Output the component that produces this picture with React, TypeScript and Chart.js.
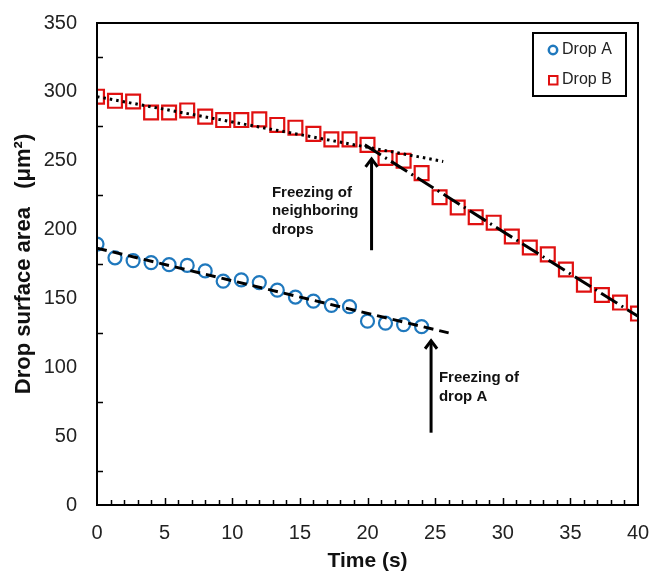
import React, { useEffect, useRef } from 'react';
import { Chart, registerables } from 'chart.js';
Chart.register(...registerables);

const timeA = [0, 1.33, 2.67, 4, 5.33, 6.67, 8, 9.33, 10.67, 12, 13.33, 14.67, 16, 17.33, 18.67, 20, 21.33, 22.67, 24];
const areaA = [189.5, 179.5, 177.5, 176, 174.5, 174, 170, 162.5, 163.5, 161.5, 156, 151, 148, 145, 144, 133.5, 132, 131, 129.5];

const timeB = [0, 1.33, 2.67, 4, 5.33, 6.67, 8, 9.33, 10.67, 12, 13.33, 14.67, 16, 17.33, 18.67, 20, 21.33, 22.67, 24, 25.33, 26.67, 28, 29.33, 30.67, 32, 33.33, 34.67, 36, 37.33, 38.67, 40];
const areaB = [296.5, 293.5, 293, 285, 285, 286.5, 282, 279.5, 279.5, 280, 276, 274, 269.5, 265.5, 265.5, 261.5, 252, 250, 241, 223.5, 216, 209, 205, 195, 187, 182, 171, 160, 152.5, 147, 139];

const trendATime = [0, 26];
const trendAArea = [186.5, 125];
const trendB1Time = [0, 25.6];
const trendB1Area = [296.5, 249.5];
const trendB2Time = [19.8, 40];
const trendB2Area = [261.5, 137];

const xTickValues = [0, 5, 10, 15, 20, 25, 30, 35, 40];
const yTickValues = [0, 50, 100, 150, 200, 250, 300, 350];
const xMinorTicks = Array.from({ length: 39 }, (_, i) => i + 1);
const yMinorTicks = [25, 75, 125, 175, 225, 275, 325];

const arrows = [
  { x: 20.3, yFrom: 185, yTo: 252 },
  { x: 24.7, yFrom: 52.5, yTo: 120 },
];
const notes = [
  { x: 12.93, y: 227, lines: ['Freezing of', 'neighboring', 'drops'] },
  { x: 25.28, y: 92, lines: ['Freezing of', 'drop A'] },
];

const seriesNames = ['Drop A', 'Drop B'];
const BLUE = '#1f78bd';
const RED = '#e01010';
const FONT = '"Liberation Sans", Arial, sans-serif';

const pts = (xs: number[], ys: number[]) => xs.map((x, i) => ({ x, y: ys[i] }));

const overlay = {
  id: 'overlay',
  afterDraw(chart: any) {
    const ctx = chart.ctx;
    const xs = chart.scales.x;
    const ys = chart.scales.y;
    const a = chart.chartArea;
    ctx.save();
    ctx.strokeStyle = '#000';
    ctx.lineWidth = 2;
    ctx.strokeRect(a.left, a.top, a.right - a.left, a.bottom - a.top);
    ctx.lineWidth = 1.5;
    ctx.beginPath();
    xMinorTicks.forEach((v) => {
      const px = Math.round(xs.getPixelForValue(v)) + 0.5;
      const len = v % 5 === 0 ? 7 : 5;
      ctx.moveTo(px, a.bottom);
      ctx.lineTo(px, a.bottom - len);
    });
    yMinorTicks.forEach((v) => {
      const py = Math.round(ys.getPixelForValue(v)) + 0.5;
      ctx.moveTo(a.left, py);
      ctx.lineTo(a.left + 6, py);
    });
    ctx.stroke();
    ctx.lineWidth = 3;
    ctx.lineCap = 'butt';
    arrows.forEach((ar) => {
      const px = xs.getPixelForValue(ar.x);
      const y0 = ys.getPixelForValue(ar.yFrom);
      const y1 = ys.getPixelForValue(ar.yTo);
      ctx.beginPath();
      ctx.moveTo(px, y0);
      ctx.lineTo(px, y1 + 1);
      ctx.stroke();
      ctx.beginPath();
      ctx.moveTo(px - 6, y1 + 9);
      ctx.lineTo(px, y1 + 1);
      ctx.lineTo(px + 6, y1 + 9);
      ctx.stroke();
    });
    ctx.fillStyle = '#111';
    ctx.font = `bold 15px ${FONT}`;
    ctx.textBaseline = 'middle';
    ctx.textAlign = 'left';
    notes.forEach((n) => {
      const px = xs.getPixelForValue(n.x);
      const py = ys.getPixelForValue(n.y);
      n.lines.forEach((l, i) => ctx.fillText(l, px, py + i * 18.5));
    });
    const lx = a.right - 105;
    const ly = a.top + 10;
    ctx.lineWidth = 2;
    ctx.strokeStyle = '#000';
    ctx.strokeRect(lx, ly, 93, 63);
    ctx.font = `16px ${FONT}`;
    ctx.fillStyle = '#222';
    ctx.strokeStyle = BLUE;
    ctx.lineWidth = 2.5;
    ctx.beginPath();
    ctx.arc(lx + 20, ly + 17, 4.2, 0, Math.PI * 2);
    ctx.stroke();
    ctx.fillText(seriesNames[0], lx + 29, ly + 17);
    ctx.strokeStyle = RED;
    ctx.lineWidth = 2;
    ctx.strokeRect(lx + 16, ly + 43, 8.5, 8.5);
    ctx.fillText(seriesNames[1], lx + 29, ly + 47);
    ctx.restore();
  },
};

export default function App() {
  const ref = useRef<HTMLCanvasElement>(null);
  useEffect(() => {
    document.body.style.margin = '0';
    const chart = new Chart(ref.current!, {
      type: 'scatter',
      data: {
        datasets: [
          {
            label: 'trendA',
            data: pts(trendATime, trendAArea),
            showLine: true,
            borderColor: '#000',
            borderWidth: 3,
            borderDash: [10, 6],
            pointRadius: 0,
          },
          {
            label: 'trendB1',
            data: pts(trendB1Time, trendB1Area),
            showLine: true,
            borderColor: '#000',
            borderWidth: 3,
            borderDash: [2.5, 4],
            pointRadius: 0,
          },
          {
            label: 'trendB2',
            data: pts(trendB2Time, trendB2Area),
            showLine: true,
            borderColor: '#000',
            borderWidth: 3,
            borderDash: [19, 5, 2, 5],
            pointRadius: 0,
          },
          {
            label: seriesNames[0],
            data: pts(timeA, areaA),
            pointStyle: 'circle',
            pointRadius: 6.5,
            borderWidth: 2.2,
            borderColor: BLUE,
            backgroundColor: 'rgba(0,0,0,0)',
          },
          {
            label: seriesNames[1],
            data: pts(timeB, areaB),
            pointStyle: 'rect',
            pointRadius: 9.8,
            borderWidth: 2.2,
            borderColor: RED,
            backgroundColor: 'rgba(0,0,0,0)',
          },
        ],
      },
      options: {
        animation: false,
        responsive: false,
        layout: { padding: { left: 10, right: 0, top: 0, bottom: 0 } },
        plugins: { legend: { display: false }, tooltip: { enabled: false } },
        scales: {
          x: {
            type: 'linear',
            min: 0,
            max: 40,
            afterBuildTicks: (s: any) => {
              s.ticks = xTickValues.map((v) => ({ value: v }));
            },
            afterFit: (s: any) => {
              s.height = 69;
              s.paddingRight = 15;
              s.paddingLeft = 0;
            },
            grid: { display: false },
            border: { display: false },
            ticks: { color: '#222', padding: 8, font: { family: FONT, size: 20 } },
            title: {
              display: true,
              text: 'Time (s)',
              color: '#111',
              padding: { top: 0, bottom: 0 },
              font: { family: FONT, size: 21, weight: 'bold' },
            },
          },
          y: {
            type: 'linear',
            min: 0,
            max: 350,
            afterBuildTicks: (s: any) => {
              s.ticks = yTickValues.map((v) => ({ value: v }));
            },
            afterFit: (s: any) => {
              s.width = 87;
              s.paddingTop = 23;
              s.paddingBottom = 0;
            },
            grid: { display: false },
            border: { display: false },
            ticks: { color: '#222', padding: 12, font: { family: FONT, size: 20 } },
            title: {
              display: true,
              text: 'Drop surface area   (μm²)',
              color: '#111',
              padding: { top: 1, bottom: 0 },
              font: { family: FONT, size: 22, weight: 'bold' },
            },
          },
        },
      },
      plugins: [overlay],
    });
    return () => chart.destroy();
  }, []);
  return (
    <div style={{ width: 653, height: 574 }}>
      <canvas ref={ref} width={653} height={574} />
    </div>
  );
}
